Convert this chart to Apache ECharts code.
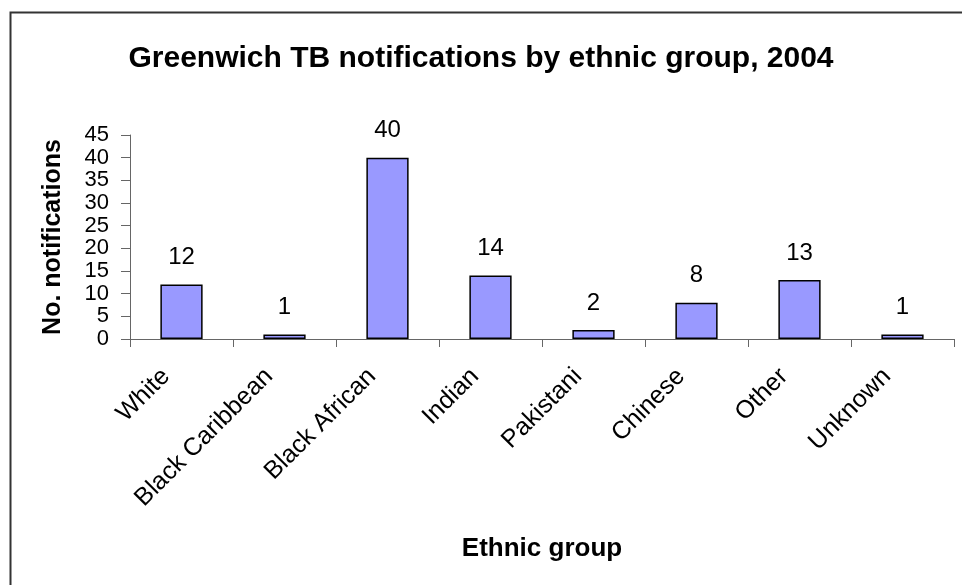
<!DOCTYPE html>
<html>
<head>
<meta charset="utf-8">
<script src="https://cdn.jsdelivr.net/npm/echarts@6/dist/echarts.min.js"></script>
<style>
html,body{margin:0;padding:0;background:#fff;}
#c{width:962px;height:585px;}
</style>
</head>
<body>
<div id="c"></div>
<script>
const titleText = 'Greenwich TB notifications by ethnic group, 2004';
const categories = ['White', 'Black Caribbean', 'Black African', 'Indian', 'Pakistani', 'Chinese', 'Other', 'Unknown'];
const notifications = [12, 1, 40, 14, 2, 8, 13, 1];
const yTicks = { min: 0, max: 45, interval: 5 };
const xName = 'Ethnic group';
const yName = 'No. notifications';

const chart = echarts.init(document.getElementById('c'), null, { renderer: 'canvas' });
const FONT = 'Liberation Sans, Arial, sans-serif';
chart.setOption({
  backgroundColor: '#ffffff',
  animation: false,
  graphic: [{
    type: 'rect', left: 8, top: 10, z: -1,
    shape: { x: 0, y: 0, width: 1000, height: 620 },
    style: { fill: 'none', stroke: '#333333', lineWidth: 2 }
  }],
  title: {
    text: titleText, left: 'center', top: 39,
    textStyle: { fontFamily: FONT, fontSize: 30, fontWeight: 'bold', color: '#000' }
  },
  grid: { left: 130, right: 8, top: 135, bottom: 246, containLabel: false },
  xAxis: {
    type: 'category', data: categories,
    name: xName, nameLocation: 'middle', nameGap: 197,
    nameTextStyle: { fontFamily: FONT, fontSize: 26, fontWeight: 'bold', color: '#000' },
    axisLine: { show: true, lineStyle: { color: '#666', width: 1 } },
    axisTick: { show: true, alignWithLabel: false, length: 8, lineStyle: { color: '#666' } },
    axisLabel: {
      interval: 0, rotate: 45, margin: 18, padding: [0, 22, 0, 0], hideOverlap: false,
      fontFamily: FONT, fontSize: 25, color: '#000'
    }
  },
  yAxis: {
    type: 'value', min: yTicks.min, max: yTicks.max, interval: yTicks.interval,
    name: yName, nameLocation: 'middle', nameGap: 64,
    nameTextStyle: { fontFamily: FONT, fontSize: 25, fontWeight: 'bold', color: '#000' },
    axisLine: { show: true, lineStyle: { color: '#666', width: 1 } },
    axisTick: { show: true, length: 9, lineStyle: { color: '#666' } },
    splitLine: { show: false },
    axisLabel: {
      margin: 21, fontFamily: FONT, fontSize: 22, color: '#000', lineHeight: 18,
      hideOverlap: false
    }
  },
  series: [{
    type: 'bar', data: notifications, barWidth: '41%',
    itemStyle: { color: '#9999FF', borderColor: '#000', borderWidth: 1.5 },
    label: {
      show: true, position: 'top', distance: 15,
      fontFamily: FONT, fontSize: 24, color: '#000'
    }
  }]
});
</script>
</body>
</html>
